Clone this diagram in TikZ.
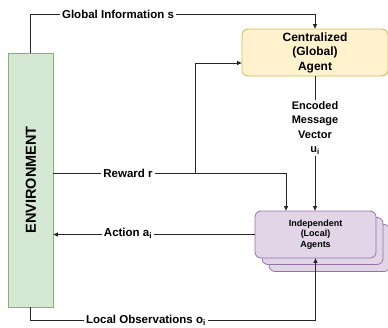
\documentclass[tikz,border=0pt]{standalone}
\usepackage{fontspec}
\setmainfont{Liberation Sans}
\usetikzlibrary{arrows.meta}
\begin{document}
\begin{tikzpicture}[x=1pt,y=-1pt,
  link/.style={draw=black!85, line width=0.8pt},
  flow/.style={link, -{Triangle[length=4.5pt,width=4pt]}},
  lbl/.style={fill=white, inner sep=2pt, font=\bfseries\fontsize{11.5}{13}\selectfont},
  box/.style={rectangle, rounded corners=6pt, line width=0.8pt, align=center}
]
\definecolor{envfill}{HTML}{D5E8D4}
\definecolor{envline}{HTML}{82B366}
\definecolor{cenfill}{HTML}{FFF2CC}
\definecolor{cenline}{HTML}{D6B656}
\definecolor{agfill}{HTML}{E1D5E7}
\definecolor{agline}{HTML}{9673A6}
\useasboundingbox (0,0) rectangle (388,327);

% environment
\node[rectangle, draw=envline, fill=envfill, line width=0.8pt,
      minimum width=45pt, minimum height=254pt, inner sep=0pt] (env) at (30.5,180) {};
\node[rotate=90, font=\bfseries\fontsize{14.5}{16}\selectfont] (envtext) at (31,180) {ENVIRONMENT};

% centralized agent
\node[box, draw=cenline, fill=cenfill, minimum width=146pt, minimum height=45pt,
      font=\bfseries\fontsize{12}{14.5}\selectfont] (central) at (315,52.5)
      {Centralized\\(Global)\\Agent};

% stacked local agents
\node[box, draw=agline, fill=agfill, minimum width=121pt, minimum height=47pt] (agents3) at (329.5,248) {};
\node[box, draw=agline, fill=agfill, minimum width=121pt, minimum height=47pt] (agents2) at (322.5,241) {};
\node[box, draw=agline, fill=agfill, minimum width=121pt, minimum height=47pt,
      font=\bfseries\fontsize{9}{10.5}\selectfont] (agents) at (315.5,234.5)
      {Independent\\(Local)\\Agents};

% helper coordinates
\coordinate (gy) at (0,14);
\coordinate (rj) at (195,173);
\coordinate (rx) at (286,173);
\coordinate (ly) at (0,320.5);

% connectors
\draw[flow] (env.north) -- (env.north |- gy) -| (central.north);
\draw[flow] (env.east |- rx) -- (rx) -- (rx |- agents.north);
\draw[flow] (rj) |- ([yshift=-10.5pt]central.west);
\draw[flow] (central.south) -- (central.south |- agents.north);
\draw[flow] (agents.west) -- (agents.west -| env.east);
\draw[flow] (env.south) -- (env.south |- ly) -| (agents.south);

% labels on the connectors
\node[lbl] (glab) at (118,14) {Global Information s};
\node[lbl] (rlab) at (128,173) {Reward r};
\node[lbl] (alab) at (128,233) {Action a\textsubscript{i}};
\node[lbl] (llab) at (146,320) {Local Observations o\textsubscript{i}};
\node[lbl, align=center, font=\bfseries\fontsize{11}{14.2}\selectfont] (mlab) at (315,128)
      {Encoded\\Message\\Vector\\u\textsubscript{i}};
\end{tikzpicture}
\end{document}
